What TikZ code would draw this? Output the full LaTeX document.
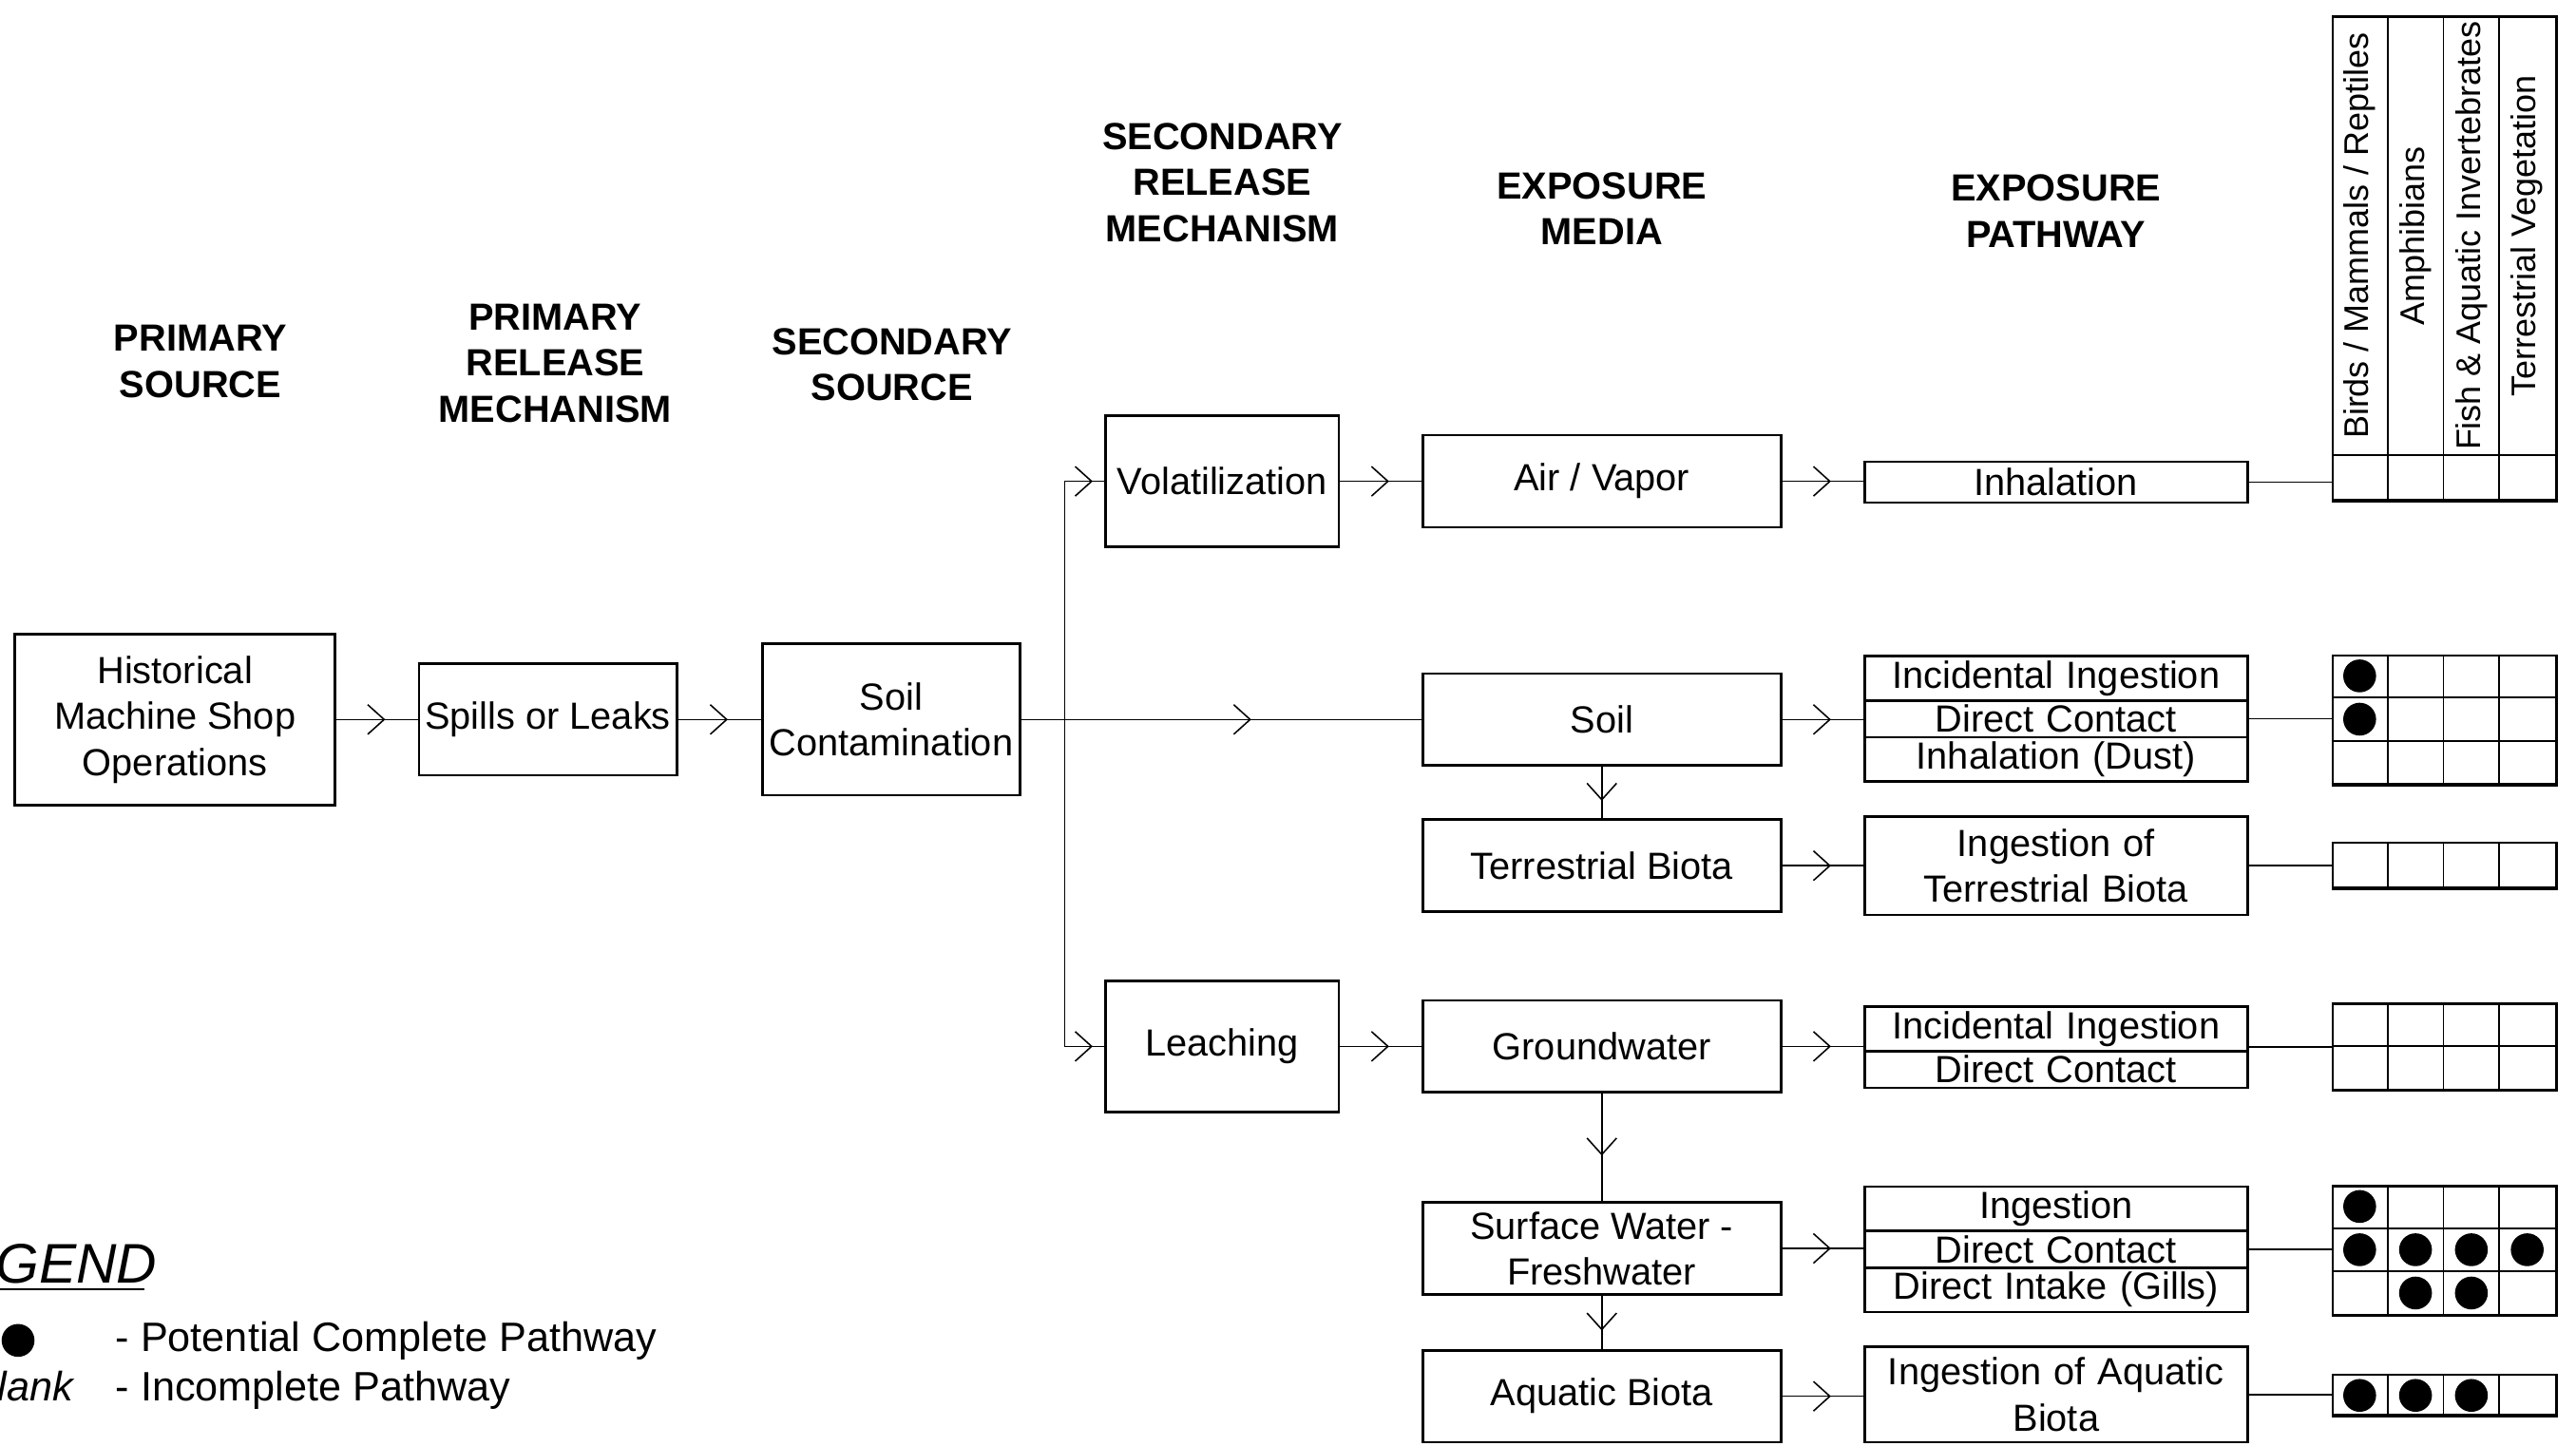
\documentclass[tikz,border=0pt]{standalone}
\usepackage{fontspec}
\setmainfont{Liberation Sans}
\usetikzlibrary{arrows.meta,decorations.markings,shapes.multipart}

\begin{document}
\begin{tikzpicture}[x=0.5pt,y=-0.5pt,
  font=\fontsize{11.5}{14}\selectfont,
  box/.style={draw,line width=0.75pt,align=center,inner sep=0pt},
  media/.style={box,minimum width=109pt,minimum height=28pt},
  pbox/.style={box,text width=116.5pt},
  splitbox/.style={pbox,rectangle split,rectangle split parts=#1,
    text height=8.4pt,text depth=2.4pt,inner ysep=1pt},
  hdr/.style={font=\fontsize{11.5}{14}\selectfont\bfseries,align=center},
  lnk/.style={line width=0.45pt},
  arj/.style={lnk,postaction={decorate},decoration={markings,
    mark=at position 0.5 with {\arrow[xshift=2.5pt]{Straight Barb[length=5pt,width=9pt]}}}},
  cellbox/.style={draw,line width=0.7pt,minimum width=68pt,inner sep=0pt},
  cellln/.style={line width=0.5pt},
  lgtext/.style={inner sep=0pt,font=\fontsize{12.5}{15}\selectfont}]
\useasboundingbox (0,0) rectangle (1568,880);

% column headings
\node[hdr] (hPs) at (122,220) {PRIMARY\\SOURCE};
\node[hdr] (hPr) at (338,221) {PRIMARY\\RELEASE\\MECHANISM};
\node[hdr] (hSs) at (543,222) {SECONDARY\\SOURCE};
\node[hdr] (hSr) at (744,111) {SECONDARY\\RELEASE\\MECHANISM};
\node[hdr] (hEm) at (975,127) {EXPOSURE\\MEDIA};
\node[hdr] (hEp) at (1251.5,128.5) {EXPOSURE\\PATHWAY};

% sources and release mechanisms
\node[box,minimum width=97.5pt,minimum height=52pt] (hist) at (106.5,438) {Historical\\Machine Shop\\Operations};
\node[box,minimum width=78.5pt,minimum height=34pt] (spill) at (333.5,438) {Spills or Leaks};
\node[box,minimum width=78.5pt,minimum height=46pt] (soilc) at (542.5,438) {Soil\\Contamination};
\node[box,minimum width=71pt,minimum height=40pt] (volat) at (744,293) {Volatilization};
\node[box,minimum width=71pt,minimum height=40pt] (leach) at (744,637) {Leaching};

% exposure media
\node[media] (air) at (975,293) {Air / Vapor};
\node[media] (soil) at (975,438) {Soil};
\node[media] (tbio) at (975,527) {Terrestrial Biota};
\node[media] (gw) at (975,637) {Groundwater};
\node[media] (sw) at (975,760) {Surface Water -\\Freshwater};
\node[media] (aqb) at (975,850) {Aquatic Biota};

% exposure pathways
\node[pbox,minimum height=12.5pt] (pinh) at (1251.5,293.5) {Inhalation};
\node[splitbox=3] (psoil) at (1251.5,437.5) {Incidental Ingestion\nodepart{two}Direct Contact\nodepart{three}Inhalation (Dust)};
\node[pbox,minimum height=30pt] (ptb) at (1251.5,527) {Ingestion of\\Terrestrial Biota};
\node[splitbox=2] (pgw) at (1251.5,637.5) {Incidental Ingestion\nodepart{two}Direct Contact};
\node[splitbox=3] (psw) at (1251.5,760.5) {Ingestion\nodepart{two}Direct Contact\nodepart{three}Direct Intake (Gills)};
\node[pbox,minimum height=29pt] (paq) at (1251.5,849) {Ingestion of Aquatic\\Biota};

% receptor table
\node[cellbox,minimum height=133.5pt] (rhead) at (1488,143.5) {};
\foreach \i in {1,2,3}
  \draw[cellln] ([xshift=\i*17pt]rhead.north west) -- ([xshift=\i*17pt]rhead.south west);
\foreach \lbl [count=\k] in {Birds / Mammals / Reptiles, Amphibians, Fish \& Aquatic Invertebrates, Terrestrial Vegetation}
  \node[rotate=90,font=\fontsize{10.4}{12}\selectfont] (lab\k) at ([xshift=\k*17pt-8.5pt]rhead.west) {\lbl};

\foreach \nm/\yc/\nr/\rh in {rair/291/1/14pt, rsoil/438.5/3/13.17pt, rtb/527/1/14pt, rgw/637.5/2/13.25pt, rsw/761.5/3/13.17pt, raq/849.5/1/12.5pt}{
  \node[cellbox,minimum height=\nr*\rh] (\nm) at (1488,\yc) {};
  \foreach \i in {1,2,3}
    \draw[cellln] ([xshift=\i*17pt]\nm.north west) -- ([xshift=\i*17pt]\nm.south west);
  \foreach \j in {1,...,\nr}
    \draw[cellln] ([yshift=-\j*\rh]\nm.north west) -- ([yshift=-\j*\rh]\nm.north east);
}

\foreach \g/\c/\r in {rsoil/1/1, rsoil/1/2, rsw/1/1, rsw/1/2, rsw/2/2, rsw/3/2, rsw/4/2, rsw/2/3, rsw/3/3, raq/1/1, raq/2/1, raq/3/1}
  \fill ([xshift=\c*17pt-8.5pt,yshift=-\r*13.17pt+6.58pt]\g.north west) circle (5pt);

% connectors
\draw[arj] (hist) -- (spill);
\draw[arj] (spill) -- (soilc);
\coordinate (br) at (648,438);
\coordinate (bt) at (br |- volat.west);
\coordinate (bb) at (br |- leach.west);
\draw[lnk] (soilc.east) -- (br);
\draw[arj] (br) -- (soil.west);
\draw[lnk] (bt) -- (bb);
\draw[arj] (bt) -- (volat.west);
\draw[arj] (bb) -- (leach.west);
\draw[arj] (volat) -- (air);
\draw[arj] (leach) -- (gw);
\draw[arj] (soil) -- (tbio);
\draw[arj] (gw) -- (sw);
\draw[arj] (sw) -- (aqb);
\foreach \a/\b/\c in {air/pinh/rair, soil/psoil/rsoil, tbio/ptb/rtb, gw/pgw/rgw, sw/psw/rsw, aqb/paq/raq}{
  \draw[arj] (\a.east) -- (\a.east -| \b.west);
  \draw[lnk] (\b.east) -- (\b.east -| \c.west);
}

% legend
\node[anchor=base east,inner sep=0pt,font=\fontsize{17}{20}\selectfont\itshape] (lgd) at (96,781) {LEGEND};
\draw[lnk] ([yshift=-2pt]lgd.base west) -- ([yshift=-2pt,xshift=-4pt]lgd.base east);
\node[circle,fill,minimum size=10pt,inner sep=0pt] (lgdot) at (11,816) {};
\node[lgtext,anchor=base west] (lgpc) at (70,823) {- Potential Complete Pathway};
\node[lgtext,anchor=base east,font=\fontsize{12.5}{15}\selectfont\itshape] (lgbl) at (45,853) {Blank};
\node[lgtext,anchor=base west] (lgic) at (70,853) {- Incomplete Pathway};
\end{tikzpicture}
\end{document}
